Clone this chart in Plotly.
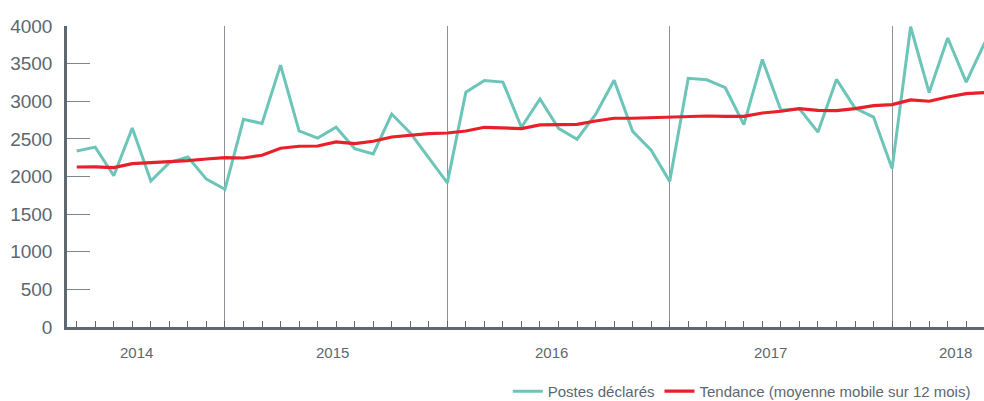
import plotly.graph_objects as go

# Monthly values (index 0 = first month shown)
postes = [2340, 2390, 2010, 2645, 1940, 2185, 2260, 1965, 1830, 2760,
          2705, 3480, 2605, 2510, 2655, 2370, 2300, 2830, 2580, 2240,
          1915, 3120, 3275, 3255, 2655, 3030, 2640, 2495, 2825, 3280,
          2600, 2350, 1935, 3305, 3285, 3180, 2690, 3555, 2880, 2900,
          2590, 3290, 2910, 2790, 2105, 3990, 3115, 3840, 3255, 3780]
tendance = [2126, 2128, 2118, 2171, 2185, 2193, 2211, 2233, 2251, 2246,
            2282, 2375, 2402, 2405, 2459, 2437, 2468, 2525, 2548, 2570,
            2578, 2605, 2654, 2641, 2637, 2685, 2690, 2694, 2738, 2774,
            2774, 2783, 2791, 2804, 2804, 2800, 2800, 2844, 2867, 2902,
            2880, 2876, 2902, 2942, 2956, 3017, 3000, 3057, 3102, 3115]
month_index = list(range(len(postes)))
year_breaks = [8, 20, 32, 44]
years = ["2014", "2015", "2016", "2017", "2018"]
year_label_at = [3.25, 13.83, 25.62, 37.45, 47.4]
y_ticks = [0, 500, 1000, 1500, 2000, 2500, 3000, 3500, 4000]

FONT = "Liberation Sans, Arial, sans-serif"
TXT = "#5d6770"
AX = "#5f686f"

fig = go.Figure()
fig.add_trace(go.Scatter(x=month_index, y=postes, mode="lines",
                         name="Postes déclarés",
                         line=dict(color="#6cc5b8", width=3)))
fig.add_trace(go.Scatter(x=month_index, y=tendance, mode="lines",
                         name="Tendance (moyenne mobile sur 12 mois)",
                         line=dict(color="#e8202a", width=3.2)))

for lab, pos in zip(years, year_label_at):
    fig.add_annotation(x=pos, xref="x", y=-0.085, yref="paper",
                       text=lab, showarrow=False, yanchor="middle",
                       font=dict(family=FONT, size=15, color=TXT))

fig.update_xaxes(range=[-0.523, 48.96], tickmode="array", tickvals=year_breaks,
                 ticks="inside", ticklen=6, tickwidth=1, tickcolor=AX,
                 showticklabels=False, showgrid=True, gridcolor="#8c9298",
                 gridwidth=1.3, showline=True, linecolor=AX, linewidth=2.5,
                 zeroline=False, automargin=False,
                 minor=dict(tickmode="linear", tick0=0, dtick=1, ticks="inside",
                            ticklen=6, tickwidth=1, tickcolor=AX, showgrid=False))
fig.update_yaxes(range=[0, 4000], tickmode="array", tickvals=y_ticks,
                 ticks="inside", ticklen=23, tickwidth=1, tickcolor="#7d868d",
                 showline=True, linecolor=AX, linewidth=2.5, showgrid=False,
                 zeroline=False, automargin=False, ticklabelstandoff=8,
                 tickfont=dict(family=FONT, size=19, color=TXT))

fig.update_layout(
    width=984, height=401, autosize=False,
    margin=dict(l=67, r=0, t=26, b=74, autoexpand=False),
    plot_bgcolor="white", paper_bgcolor="white",
    font=dict(family=FONT, color=TXT),
    legend=dict(orientation="h", x=0.991, xanchor="right", y=-0.214,
                yanchor="middle", font=dict(family=FONT, size=15, color=TXT),
                itemwidth=30, bgcolor="rgba(0,0,0,0)"),
    showlegend=True,
)

fig.write_html("out.html", config={"displayModeBar": False},
               post_script="document.body.style.margin='0';"
                           "document.body.style.overflow='hidden';")
